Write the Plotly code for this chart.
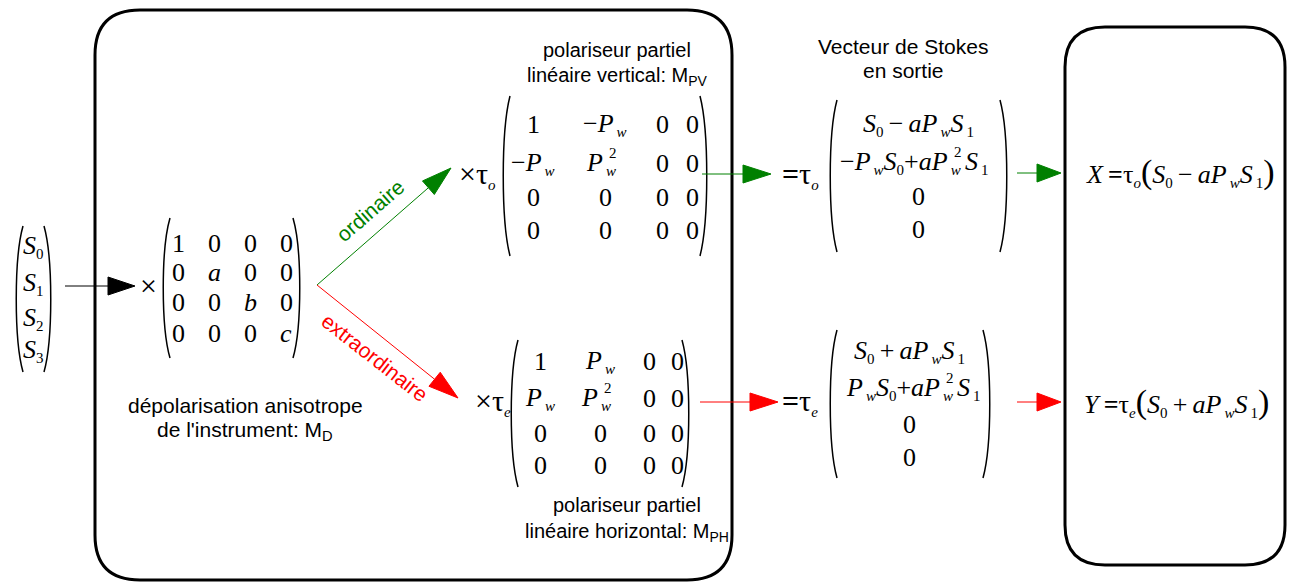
import plotly.graph_objects as go
import numpy as np

# ---- data (text content of the diagram) ----
TS = "\u2009"  # thin space around operators


def sub(s):
    return "<sub><span style='font-size:15px'>" + s + "</span></sub>"


input_vec = ["<i>S</i>" + sub("0"), "<i>S</i>" + sub("1"), "<i>S</i>" + sub("2"), "<i>S</i>" + sub("3")]

md_matrix = [
    ["1", "0", "0", "0"],
    ["0", "<i>a</i>", "0", "0"],
    ["0", "0", "<i>b</i>", "0"],
    ["0", "0", "0", "<i>c</i>"],
]

pw = "<i>P</i>" + sub(TS + "<i>w</i>")
pw2 = "<i>P</i>" + sub(TS + "<i>w</i>") + "^2"   # ^2 drawn stacked above the w

mpv_matrix = [
    ["1", "−" + pw, "0", "0"],
    ["−" + pw, pw2, "0", "0"],
    ["0", "0", "0", "0"],
    ["0", "0", "0", "0"],
]

mph_matrix = [
    ["1", pw, "0", "0"],
    [pw, pw2, "0", "0"],
    ["0", "0", "0", "0"],
    ["0", "0", "0", "0"],
]

s0 = "<i>S</i>" + sub("0")
s1 = "<i>S</i>" + sub(TS + "1")
minus = TS + "−" + TS
plus = TS + "+" + TS
out_o = [s0 + minus + "<i>a</i>" + pw + s1, "−" + pw + s0 + "+<i>a</i>" + pw2 + s1, "0", "0"]
out_e = [s0 + plus + "<i>a</i>" + pw + s1, pw + s0 + "+<i>a</i>" + pw2 + s1, "0", "0"]

big_l = "<span style='font-size:34px'>(</span>"
big_r = "<span style='font-size:34px'>)</span>"
expr_x = "<i>X</i>" + TS + "<b>=</b>τ" + sub("<i>o</i>") + big_l + s0 + minus + "<i>a</i>" + pw + s1 + big_r
expr_y = "<i>Y</i>" + TS + "<b>=</b>τ" + sub("<i>e</i>") + big_l + s0 + plus + "<i>a</i>" + pw + s1 + big_r

GREEN = "#008000"
RED = "#ff0000"
SERIF = "Liberation Serif"
SANS = "Liberation Sans"
OFF = 8  # page body margin, compensated in the axis ranges
MATH = 26

fig = go.Figure()
shapes = []
annotations = []


def text(x, y, s, size=MATH, family=SERIF, color="black", angle=0, xanchor="center"):
    annotations.append(dict(x=x, y=y, text=s, showarrow=False, xref="x", yref="y",
                            xanchor=xanchor, yanchor="middle", textangle=angle,
                            font=dict(family=family, size=size, color=color)))


def math(x, y, s, size=MATH, split=None):
    # entries with ^2 get the square drawn above the subscript w
    if "^2" not in s:
        text(x, y, s, size)
        return
    left, right = s.split("^2")
    if split is None:
        split = x + 13
    text(split, y, left, size, xanchor="right")
    if right:
        text(split, y, right, size, xanchor="left")
    text(split - 5, y - 10, "2", 15)


def rounded_box(x0, y0, x1, y1, r, width=3):
    p = (f"M {x0+r},{y0} L {x1-r},{y0} Q {x1},{y0} {x1},{y0+r} L {x1},{y1-r} "
         f"Q {x1},{y1} {x1-r},{y1} L {x0+r},{y1} Q {x0},{y1} {x0},{y1-r} "
         f"L {x0},{y0+r} Q {x0},{y0} {x0+r},{y0} Z")
    shapes.append(dict(type="path", path=p, line=dict(color="black", width=width),
                       xref="x", yref="y"))


def parens(xl, xr, y0, y1, bulge=7):
    h = y1 - y0
    pl = f"M {xl+bulge},{y0} C {xl-2},{y0+h*0.22} {xl-2},{y1-h*0.22} {xl+bulge},{y1}"
    pr = f"M {xr-bulge},{y0} C {xr+2},{y0+h*0.22} {xr+2},{y1-h*0.22} {xr-bulge},{y1}"
    for p in (pl, pr):
        shapes.append(dict(type="path", path=p, line=dict(color="black", width=1.5),
                           xref="x", yref="y"))


def arrow(x0, y0, x1, y1, color, head_len=27, head_w=9):
    d = np.array([x1 - x0, y1 - y0], dtype=float)
    u = d / np.linalg.norm(d)
    n = np.array([-u[1], u[0]])
    base = np.array([x1, y1]) - head_len * u
    shapes.append(dict(type="line", x0=x0, y0=y0, x1=base[0], y1=base[1],
                       line=dict(color=color, width=1), xref="x", yref="y"))
    a = base + head_w * n
    b = base - head_w * n
    p = f"M {x1},{y1} L {a[0]},{a[1]} L {b[0]},{b[1]} Z"
    shapes.append(dict(type="path", path=p, fillcolor=color, line=dict(color=color, width=1),
                       xref="x", yref="y"))


def matrix(entries, col_xs, row_ys):
    for r, row in enumerate(entries):
        for c, val in enumerate(row):
            math(col_xs[c], row_ys[r], val)


# ---- boxes ----
rounded_box(95, 10, 732, 580, 45)
rounded_box(1065, 27, 1285, 565, 40)

# ---- input vector ----
parens(16, 51, 226, 372)
for i, v in enumerate(input_vec):
    math(33, [246, 283, 318, 350][i], v)

arrow(65, 286, 135, 286, "black")
text(148, 285, "×", size=30)

# ---- depolarisation matrix ----
parens(163, 300, 218, 358)
matrix(md_matrix, [178, 214, 250, 286], [243, 272, 302, 333])
text(245, 405, "dépolarisation anisotrope", size=21, family=SANS)
text(245, 431, "de l'instrument: M<sub>D</sub>", size=21, family=SANS)

# ---- branches ----
arrow(317, 285, 451, 168, GREEN, head_len=30, head_w=9)
arrow(317, 285, 458, 398, RED, head_len=30, head_w=9)
text(370, 210, "ordinaire", size=21, family=SANS, color=GREEN, angle=-41)
text(375, 357, "extraordinaire", size=21, family=SANS, color=RED, angle=38)

# ---- vertical polariser (ordinary) ----
text(617, 50, "polariseur partiel", size=20, family=SANS)
text(617, 76, "linéaire vertical: M<sub>PV</sub>", size=20, family=SANS)
text(477, 175, "×τ" + sub("<i>o</i>"), size=30)
parens(503, 707, 96, 256)
matrix(mpv_matrix, [533, 605, 662, 692], [124, 163, 197, 230])
arrow(702, 174, 771, 174, GREEN, head_len=28)

text(903, 46, "Vecteur de Stokes", size=21, family=SANS)
text(903, 70, "en sortie", size=21, family=SANS)
text(800, 175, "<b>=</b>τ" + sub("<i>o</i>"), size=30)
parens(830, 1007, 100, 252)
out_o_ys = [124, 162, 196, 229]
for i, v in enumerate(out_o):
    math(918, out_o_ys[i], v, split=963)
arrow(1017, 173, 1061, 173, GREEN, head_len=24)
text(1180, 172, expr_x, size=MATH)

# ---- horizontal polariser (extraordinary) ----
text(493, 402, "×τ" + sub("<i>e</i>"), size=30)
parens(511, 689, 340, 487)
matrix(mph_matrix, [540, 600, 649, 677], [361, 398, 433, 465])
text(627, 505, "polariseur partiel", size=20, family=SANS)
text(627, 532, "linéaire horizontal: M<sub>PH</sub>", size=20, family=SANS)
arrow(700, 402, 778, 402, RED, head_len=28)

text(800, 402, "<b>=</b>τ" + sub("<i>e</i>"), size=30)
parens(830, 990, 330, 478)
out_e_ys = [351, 388, 424, 457]
for i, v in enumerate(out_e):
    math(909, out_e_ys[i], v, split=955)
arrow(1017, 402, 1061, 402, RED, head_len=24)
text(1176, 402, expr_y, size=MATH)

fig.update_layout(
    width=1300, height=585,
    margin=dict(l=0, r=0, t=0, b=0),
    paper_bgcolor="white", plot_bgcolor="white",
    xaxis=dict(range=[OFF, 1300 + OFF], visible=False, fixedrange=True),
    yaxis=dict(range=[585 + OFF, OFF], visible=False, fixedrange=True),
    shapes=shapes, annotations=annotations,
    showlegend=False,
)

fig.write_html("out.html")
